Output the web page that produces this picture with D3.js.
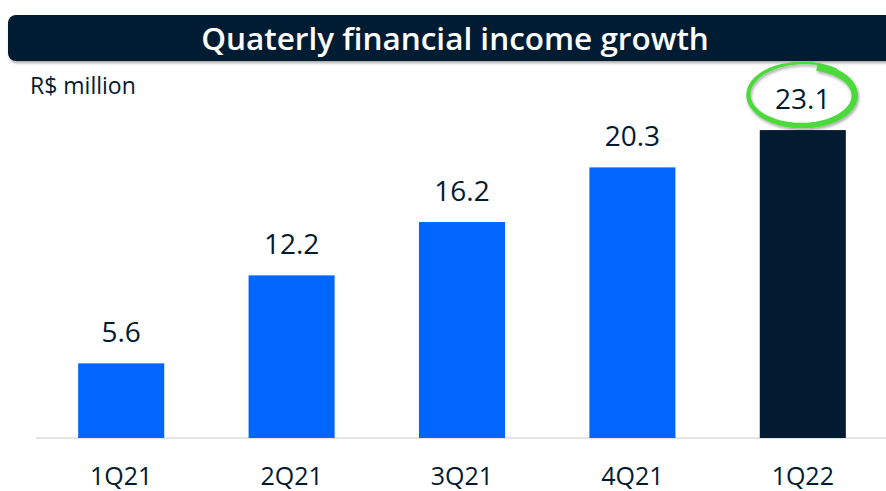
<!DOCTYPE html>
<html>
<head>
<meta charset="utf-8">
<title>Quaterly financial income growth</title>
<script src="https://cdn.jsdelivr.net/npm/d3@7"></script>
<style>
  body { margin: 0; background: #fff; }
  text { font-family: "Open Sans", "Noto Sans", sans-serif; }
</style>
</head>
<body>
<div id="chart"></div>
<script>
// data
const quarters = ["1Q21", "2Q21", "3Q21", "4Q21", "1Q22"];
const income = [5.6, 12.2, 16.2, 20.3, 23.1];
const highlight = "1Q22";

const width = 886, height = 491;
const baseY = 438;
const navy = "#021b31";

const svg = d3.select("#chart").append("svg")
    .attr("width", width)
    .attr("height", height);

// shadows
const defs = svg.append("defs");
const sh = defs.append("filter").attr("id", "shadow")
    .attr("x", "-5%").attr("y", "-20%").attr("width", "110%").attr("height", "160%");
sh.append("feDropShadow").attr("dx", 1).attr("dy", 2).attr("stdDeviation", 1.5)
    .attr("flood-color", "#000").attr("flood-opacity", 0.35);

// title bar
svg.append("rect")
    .attr("x", 8).attr("y", 15)
    .attr("width", 900).attr("height", 46)
    .attr("rx", 8)
    .style("fill", navy)
    .attr("filter", "url(#shadow)");

svg.append("text")
    .attr("x", 455).attr("y", 50)
    .style("text-anchor", "middle")
    .style("font-size", "31.5px")
    .style("font-weight", 600)
    .style("fill", "#fff")
    .text("Quaterly financial income growth");

svg.append("text")
    .attr("x", 30).attr("y", 94)
    .style("font-size", "23px")
    .style("font-weight", 500)
    .style("fill", navy)
    .text("R$ million");

// scales
const x = d3.scaleBand()
    .domain(quarters)
    .range([36, 888])
    .paddingInner(0.495)
    .paddingOuter(0.2475);

const y = d3.scaleLinear()
    .domain([0, 25])
    .range([baseY, baseY - 25 * 13.33]);

// baseline
svg.append("line")
    .attr("x1", 36).attr("x2", width)
    .attr("y1", baseY).attr("y2", baseY)
    .style("stroke", "#dddddd")
    .style("stroke-width", 1.5);

const rows = quarters.map((q, i) => ({q, v: income[i]}));

svg.selectAll(".bar")
    .data(rows)
    .enter().append("rect")
    .classed("bar", true)
    .attr("x", d => x(d.q))
    .attr("width", x.bandwidth())
    .attr("y", d => y(d.v))
    .attr("height", d => baseY - y(d.v))
    .style("fill", d => d.q === highlight ? navy : "#0066ff");

svg.selectAll(".val")
    .data(rows)
    .enter().append("text")
    .classed("val", true)
    .attr("x", d => x(d.q) + x.bandwidth() / 2)
    .attr("y", d => y(d.v) - 21)
    .style("text-anchor", "middle")
    .style("font-size", "28px")
    .style("fill", navy)
    .text(d => d.v.toFixed(1));

// category axis
const xAxis = svg.append("g")
    .attr("transform", `translate(0,${baseY})`)
    .call(d3.axisBottom(x).tickSize(0).tickPadding(29));
xAxis.select(".domain").remove();
xAxis.selectAll("text")
    .style("font-family", "'Open Sans', sans-serif")
    .style("font-size", "25px")
    .style("fill", navy);

// hand drawn green loop round the last value
const hl = rows.find(d => d.q === highlight);
const cx = x(hl.q) + x.bandwidth() / 2, cy = y(hl.v) - 35;
const N = 120, outer = [], inner = [];
for (let k = 0; k <= N; k++) {
    const t = k / N;
    const a = (-52 - t * 382) * Math.PI / 180;
    const grow = 1.1 - 0.1 * t;
    const w = 0.8 + 6.4 * Math.pow(t, 0.55);
    const rx = 51 * grow, ry = 29 * (1.12 - 0.12 * t);
    const px = cx + rx * Math.cos(a), py = cy + ry * Math.sin(a);
    // normal
    const nx = Math.cos(a) / rx, ny = Math.sin(a) / ry;
    const nl = Math.hypot(nx, ny);
    outer.push([px + nx / nl * w / 2, py + ny / nl * w / 2]);
    inner.push([px - nx / nl * w / 2, py - ny / nl * w / 2]);
}
const loop = outer.concat(inner.reverse());
svg.append("path")
    .attr("d", d3.line()(loop) + "Z")
    .style("fill", "#4cd93a")
    .attr("filter", "url(#shadow)");
</script>
</body>
</html>
